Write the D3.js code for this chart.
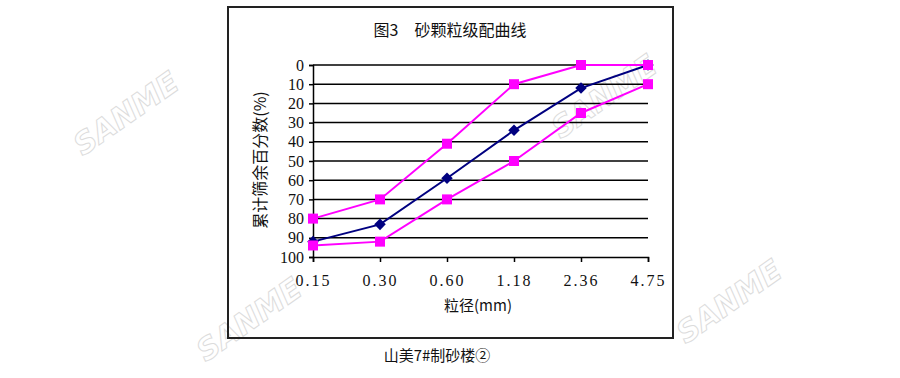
<!DOCTYPE html>
<html>
<head>
<meta charset="utf-8">
<title>砂颗粒级配曲线</title>
<script src="https://cdn.jsdelivr.net/npm/d3@7"></script>
<style>
body { margin: 0; background: #fff; }
text { font-family: "Liberation Serif", "Noto Sans CJK SC", serif; fill: #111; }
.cjk { font-family: "Noto Sans CJK SC", sans-serif; }
.wm { font-family: "DejaVu Sans", sans-serif; font-weight: bold; font-style: italic; fill: #fff; stroke: #dcdcdc; stroke-width: 1; }
</style>
</head>
<body>
<script>
// data
var sizes = ["0.15", "0.30", "0.60", "1.18", "2.36", "4.75"];
var sample = [92, 83, 59, 34, 12, 0];
var upperLimit = [80, 70, 41, 10, 0, 0];
var lowerLimit = [94, 92, 70, 50, 25, 10];
var yTicks = [0, 10, 20, 30, 40, 50, 60, 70, 80, 90, 100];

var w = 900, h = 378;
var svg = d3.select("body").append("svg").attr("width", w).attr("height", h);

// watermarks
var wmPos = [[132, 112], [610, 95], [255, 318], [735, 300]];
svg.selectAll(".wm").data(wmPos).enter().append("text")
	.attr("class", "wm")
	.attr("text-anchor", "middle")
	.attr("font-size", 30)
	.attr("transform", function(d){ return "translate(" + d[0] + "," + (d[1] + 10) + ") rotate(-35)"; })
	.text("SANME");

// outer frame
svg.append("rect").attr("x", 228).attr("y", 7).attr("width", 445).attr("height", 331)
	.attr("fill", "none").attr("stroke", "#222").attr("stroke-width", 2);

var x = d3.scalePoint().domain(sizes).range([313, 648]);
var y = d3.scaleLinear().domain([0, 100]).range([65, 257]);

// grid lines
svg.append("g").selectAll("line").data(yTicks.slice(0, -1)).enter().append("line")
	.attr("x1", 313).attr("x2", 648)
	.attr("y1", function(d){ return y(d); }).attr("y2", function(d){ return y(d); })
	.attr("stroke", "#000").attr("stroke-width", 1.5);

var yAxis = d3.axisLeft(y).tickValues(yTicks).tickSize(4).tickPadding(5);
var gy = svg.append("g").attr("transform", "translate(313,0)").call(yAxis);
gy.selectAll("text").attr("font-size", 16).style("font-family", "Liberation Serif");

var xAxis = d3.axisBottom(x).tickSize(5).tickPadding(13);
var gx = svg.append("g").attr("transform", "translate(0,257)").call(xAxis);
gx.selectAll("text").attr("font-size", 16).attr("letter-spacing", 2).style("font-family", "Liberation Serif");

svg.selectAll(".domain").attr("stroke", "#000").attr("stroke-width", 1.5);
svg.selectAll(".tick line").attr("stroke", "#000").attr("stroke-width", 1.5);

var line = d3.line().x(function(d, i){ return x(sizes[i]); }).y(function(d){ return y(d); });

// sample curve
svg.append("path").datum(sample).attr("d", line)
	.attr("fill", "none").attr("stroke", "#000080").attr("stroke-width", 2);
svg.append("g").selectAll("path").data(sample).enter().append("path")
	.attr("d", d3.symbol().type(d3.symbolDiamond2).size(85))
	.attr("transform", function(d, i){ return "translate(" + x(sizes[i]) + "," + y(d) + ")"; })
	.attr("fill", "#000080");

// grading limits
[upperLimit, lowerLimit].forEach(function(s){
	svg.append("path").datum(s).attr("d", line)
		.attr("fill", "none").attr("stroke", "#FF00FF").attr("stroke-width", 2);
	svg.append("g").selectAll("rect").data(s).enter().append("rect")
		.attr("x", function(d, i){ return x(sizes[i]) - 5; })
		.attr("y", function(d){ return y(d) - 5; })
		.attr("width", 10).attr("height", 10)
		.attr("fill", "#FF00FF");
});

// titles
svg.append("text").attr("x", 450).attr("y", 36).attr("text-anchor", "middle")
	.attr("font-size", 16).attr("class", "cjk").text("图3　砂颗粒级配曲线");
svg.append("text").attr("x", 478).attr("y", 311).attr("text-anchor", "middle")
	.attr("font-size", 15).attr("class", "cjk").text("粒径(mm)");
svg.append("text").attr("transform", "translate(266,160) rotate(-90)").attr("text-anchor", "middle")
	.attr("font-size", 16).attr("class", "cjk").text("累计筛余百分数(%)");
svg.append("text").attr("x", 437).attr("y", 361).attr("text-anchor", "middle")
	.attr("font-size", 15).attr("class", "cjk").text("山美7#制砂楼②");
</script>
</body>
</html>
